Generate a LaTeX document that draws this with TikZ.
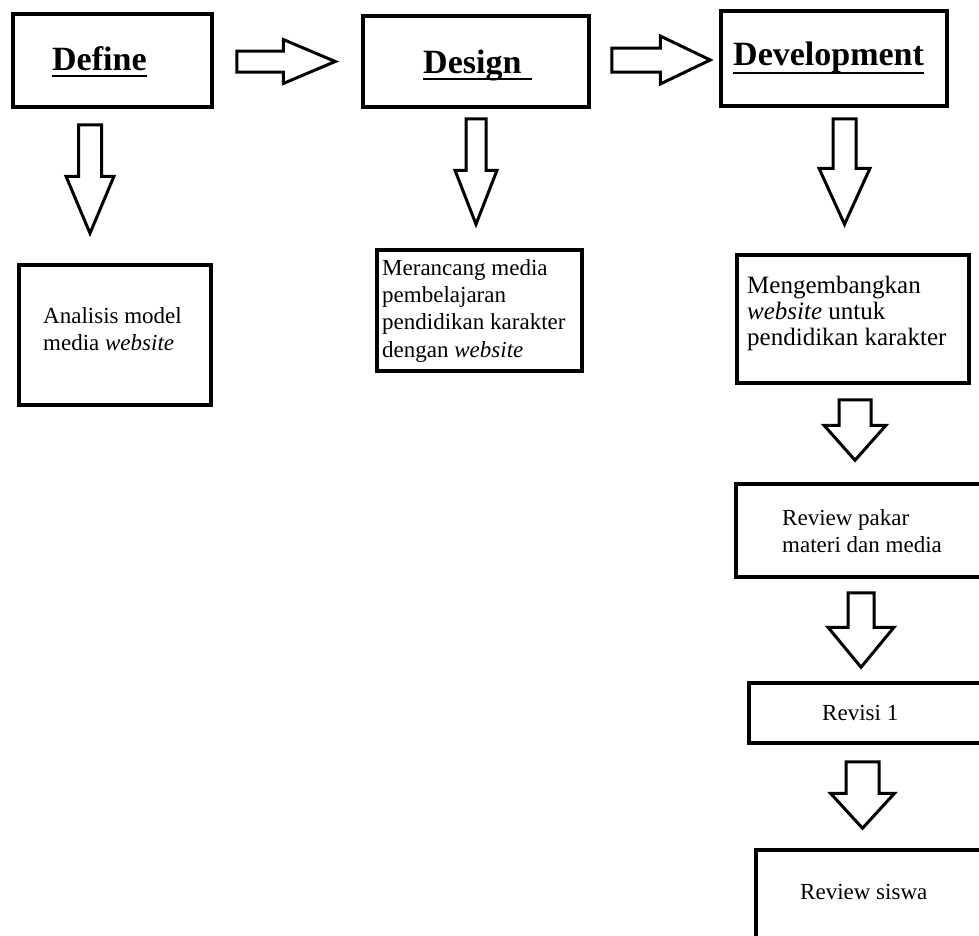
\documentclass[tikz,border=0pt]{standalone}
\usepackage{fontspec}
\setmainfont{Liberation Serif}
\usetikzlibrary{calc}
\newcommand{\titlefont}{\fontsize{34}{40}\selectfont\bfseries}
\newcommand{\bodyfont}{\fontsize{23}{27.2}\selectfont}
\newcommand{\bigbody}{\fontsize{25}{26.2}\selectfont}
% hollow block arrows: start, tip, shaft half width, head half width, head length
\newcommand{\blockdown}[5]{%
  \draw[hollow] let \p1=(#1), \p2=(#2) in
    (\x1-#3pt,\y1) -- (\x1+#3pt,\y1) -- (\x1+#3pt,\y2+#5pt) -- (\x1+#4pt,\y2+#5pt)
    -- (\x1,\y2) -- (\x1-#4pt,\y2+#5pt) -- (\x1-#3pt,\y2+#5pt) -- cycle;}
\newcommand{\blockright}[5]{%
  \draw[hollow] let \p1=(#1), \p2=(#2) in
    (\x1,\y1+#3pt) -- (\x2-#5pt,\y1+#3pt) -- (\x2-#5pt,\y1+#4pt) -- (\x2,\y1)
    -- (\x2-#5pt,\y1-#4pt) -- (\x2-#5pt,\y1-#3pt) -- (\x1,\y1-#3pt) -- cycle;}

\begin{document}
\begin{tikzpicture}[x=1pt, y=-1pt,
    stage/.style={draw, line width=3.5pt, inner sep=0pt},
    title/.style={anchor=base west, inner sep=0pt, font=\titlefont},
    underbar/.style={line width=2.6pt},
    body/.style={anchor=north west, inner sep=0pt, align=left, font=\bodyfont},
    line/.style={anchor=base west, inner sep=0pt, font=\bodyfont},
    hollow/.style={draw, line width=3pt, fill=white, line join=miter, miter limit=10}]
    \path[use as bounding box, fill=white] (0,0) rectangle (979,935);
    \clip (0,0) rectangle (979,935);

    % stages
    \node[stage, minimum width=199pt, minimum height=93pt] (define) at (112.5,60.5) {};
    \node[stage, minimum width=226pt, minimum height=91pt] (design) at (476,61.5) {};
    \node[stage, minimum width=226pt, minimum height=95pt] (devel) at (834,58.5) {};
    \node[title] (defineT) at (52,70) {Define};
    \node[title] (designT) at (423,73) {Design};
    \node[title] (develT) at (733,65) {Development};
    \draw[underbar] ([yshift=-6pt]defineT.base west) -- ([yshift=-6pt]defineT.base east);
    \draw[underbar] ([yshift=-6pt]designT.base west) -- ([xshift=10pt,yshift=-6pt]designT.base east);
    \draw[underbar] ([yshift=-8pt]develT.base west) -- ([yshift=-8pt]develT.base east);

    % results of each stage
    \node[stage, minimum width=192pt, minimum height=140pt] (analisis) at (115,335) {};
    \node[stage, minimum width=205pt, minimum height=121pt] (merancang) at (479.5,310.5) {};
    \node[stage, minimum width=232pt, minimum height=128pt] (mengembangkan) at (853,319) {};
    \node[stage, minimum width=258pt, minimum height=93pt] (pakar) at (865,530.5) {};
    \node[stage, minimum width=246pt, minimum height=60pt] (revisi) at (872,713) {};
    \node[stage, minimum width=239pt, minimum height=110pt] (siswa) at (875.5,905) {};
    \node[body] (analisisT) at (43,307.3) {Analisis model\\media \textit{website}};
    \node[body] (merancangT) at (382,259.3) {Merancang media\\pembelajaran\\pendidikan karakter\\dengan \textit{website}};
    \node[body, font=\bigbody] (mengembangkanT) at (747,275.9) {Mengembangkan\\\textit{website} untuk\\pendidikan karakter};
    \node[body] (pakarT) at (782,509.3) {Review pakar\\materi dan media};
    \node[line] (revisiT) at (822,720) {Revisi 1};
    \node[line] (siswaT) at (800,899) {Review siswa};

    % arrows
    \blockright{[xshift=23pt,yshift=-1pt]define.east}{[xshift=-26pt]design.west}{10.5}{22}{52}
    \blockright{[xshift=21pt,yshift=1.5pt]design.east}{[xshift=-9pt]devel.west}{12}{24}{50}
    \blockdown{[xshift=-22.5pt,yshift=-16pt]define.south}{[yshift=30pt]analisis.north}{11.5}{24}{57}
    \blockdown{[yshift=-10pt]design.south}{[yshift=24pt]merancang.north}{10}{21}{54}
    \blockdown{[xshift=10.5pt,yshift=-11pt]devel.south}{[yshift=29pt]mengembangkan.north}{11.5}{25.5}{56}
    \blockdown{[xshift=2pt,yshift=-15pt]mengembangkan.south}{[yshift=22pt]pakar.north}{16}{31}{35}
    \blockdown{[xshift=-4pt,yshift=-14pt]pakar.south}{[yshift=14pt]revisi.north}{13}{33}{40}
    \blockdown{[xshift=-9.5pt,yshift=-17pt]revisi.south}{[yshift=20pt]siswa.north}{16.5}{32}{35}
\end{tikzpicture}
\end{document}
